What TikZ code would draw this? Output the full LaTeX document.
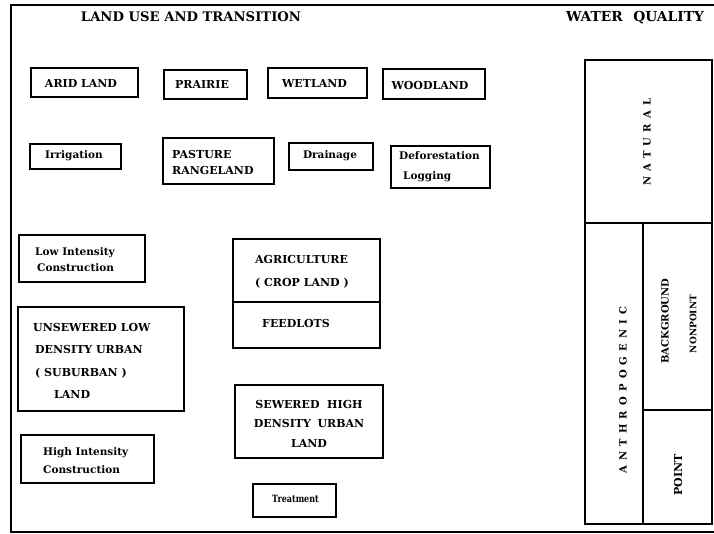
\documentclass[tikz,border=0pt]{standalone}
\usepackage{fontspec}
\setmainfont{DejaVu Serif}
\begin{document}
\begin{tikzpicture}[x=1pt,y=-1pt,
  frame/.style={line width=1.4pt},
  thickbox/.style={draw,line width=2.6pt,inner sep=0pt},
  thinbox/.style={draw,line width=1.2pt,inner sep=0pt},
  wqbox/.style={draw,line width=1.7pt,inner sep=0pt},
  caps/.style={inner sep=0pt,font=\bfseries\fontsize{11}{22}\selectfont},
  mixed/.style={inner sep=0pt,font=\bfseries\fontsize{10.5}{16}\selectfont},
  title/.style={inner sep=0pt,font=\bfseries\fontsize{13.2}{16}\selectfont},
  vlab/.style={inner sep=0pt,rotate=90}]
\useasboundingbox (0,0) rectangle (714,534);
\fill[white] (0,0) rectangle (714,534);
% outer frame
\draw[frame] (714,5) -- (11,5) -- (11,532) -- (714,532);
% titles
\node[title] (t1) at (191,17) {LAND USE AND TRANSITION};
\node[title,font=\bfseries\fontsize{13.8}{16}\selectfont] (t2) at (635,18) {WATER\hspace{0.75em}QUALITY};
% row 1
\node[thickbox,minimum width=107pt,minimum height=29pt] (arid) at (84.5,82.5) {};
\node[caps] (aridt) at (81,83) {ARID LAND};
\node[thickbox,minimum width=83pt,minimum height=29pt] (prairie) at (205.5,84.5) {};
\node[caps] (prairiet) at (202,84) {PRAIRIE};
\node[thickbox,minimum width=99pt,minimum height=30pt] (wetland) at (317.5,83) {};
\node[caps] (wetlandt) at (314.5,83) {WETLAND};
\node[thickbox,minimum width=102pt,minimum height=30pt] (woodland) at (434,84) {};
\node[caps] (woodlandt) at (430,85) {WOODLAND};
% row 2
\node[thinbox,minimum width=91pt,minimum height=25pt] (irrig) at (75.5,156.5) {};
\node[mixed,anchor=west] (irrigt) at (45,156) {Irrigation};
\node[thickbox,minimum width=111pt,minimum height=46pt] (pasture) at (218.5,161) {};
\node[caps,anchor=west,align=left,font=\bfseries\fontsize{11}{16}\selectfont] (pasturet) at (172,162) {PASTURE\\RANGELAND};
\node[thinbox,minimum width=84pt,minimum height=27pt] (drain) at (331,156.5) {};
\node[mixed] (draint) at (330,156) {Drainage};
\node[thinbox,minimum width=99pt,minimum height=42pt] (defor) at (440.5,167) {};
\node[mixed,anchor=west,align=left,font=\bfseries\fontsize{10.5}{20}\selectfont] (defort) at (399,167) {Deforestation\\\hspace*{4pt}Logging};
% left column
\node[thinbox,minimum width=126pt,minimum height=47pt] (lowc) at (82,258.5) {};
\node[mixed,anchor=west,align=left] (lowct) at (35,260) {Low Intensity\\\hspace*{2pt}Construction};
\node[thickbox,minimum width=166pt,minimum height=104pt] (unsew) at (101,359) {};
\node[caps,anchor=west,align=left,font=\bfseries\fontsize{11}{22.5}\selectfont] (unsewt) at (33,361) {UNSEWERED LOW\\\hspace*{2pt}DENSITY URBAN\\\hspace*{2pt}( SUBURBAN )\\\hspace*{21pt}LAND};
\node[thinbox,minimum width=133pt,minimum height=48pt] (highc) at (87.5,459) {};
\node[mixed,anchor=west,align=left,font=\bfseries\fontsize{10.5}{18}\selectfont] (highct) at (43,461) {High Intensity\\Construction};
% middle column
\node[thickbox,minimum width=147pt,minimum height=63pt] (agri) at (306.5,270.5) {};
\node[thickbox,minimum width=147pt,minimum height=46pt] (feed) at (306.5,325) {};
\node[caps,anchor=west,align=left,font=\bfseries\fontsize{11}{23}\selectfont] (agrit) at (255,271.5) {AGRICULTURE\\( CROP LAND )};
\node[caps,anchor=west] (feedt) at (262,323) {FEEDLOTS};
\node[thickbox,minimum width=148pt,minimum height=73pt] (sewer) at (309,421.5) {};
\node[caps,align=center,font=\bfseries\fontsize{11}{19.5}\selectfont] (sewert) at (309,423.5) {SEWERED\hspace{0.7em}HIGH\\DENSITY\hspace{0.6em}URBAN\\LAND};
\node[thinbox,minimum width=83pt,minimum height=33pt] (treat) at (294.5,500.5) {};
\node[mixed,font=\bfseries\fontsize{10}{12}\selectfont] (treatt) at (295.5,499) {\scalebox{0.8}[1]{Treatment}};
% water quality column
\node[wqbox,minimum width=127pt,minimum height=163pt] (natural) at (648.5,141.5) {};
\node[wqbox,minimum width=58pt,minimum height=301pt] (anthro) at (614,373.5) {};
\node[wqbox,minimum width=69pt,minimum height=187pt] (bgnp) at (677.5,316.5) {};
\node[wqbox,minimum width=69pt,minimum height=114pt] (point) at (677.5,467) {};
\node[vlab,font=\bfseries\fontsize{10}{12}\selectfont\addfontfeature{LetterSpace=52}] (naturalt) at (647,142) {NATURAL};
\node[vlab,font=\bfseries\fontsize{10}{12}\selectfont\addfontfeature{LetterSpace=52}] (anthrot) at (623,390) {ANTHROPOGENIC};
\node[vlab,font=\bfseries\fontsize{10}{12}\selectfont] (bgt) at (665,321) {BACKGROUND};
\node[vlab,font=\bfseries\fontsize{9}{12}\selectfont] (npt) at (693,324) {NONPOINT};
\node[vlab,font=\bfseries\fontsize{11}{12}\selectfont] (pointt) at (678,475) {POINT};
\end{tikzpicture}
\end{document}
